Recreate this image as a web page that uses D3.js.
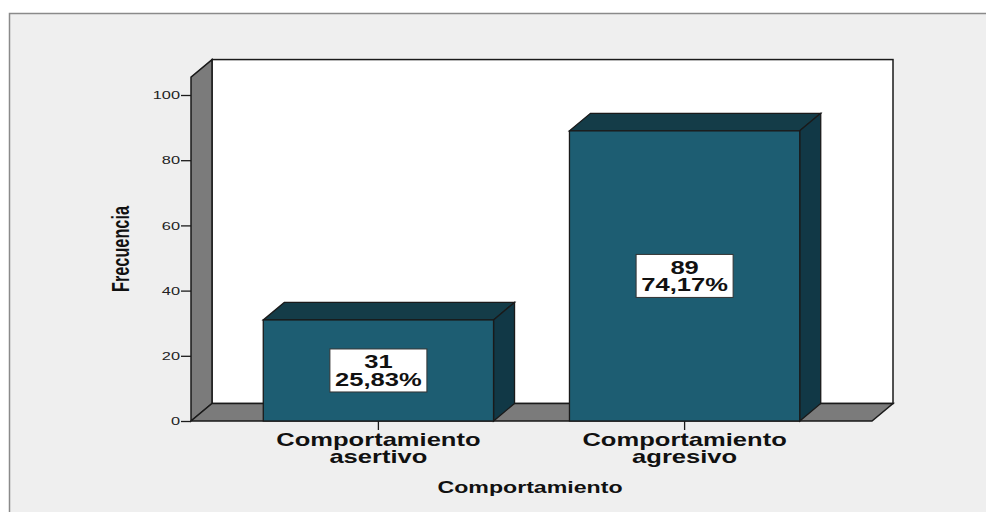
<!DOCTYPE html>
<html>
<head>
<meta charset="utf-8">
<script src="https://cdn.jsdelivr.net/npm/d3@7"></script>
<style>
  html, body { margin: 0; padding: 0; background: #fff; }
  text { font-family: "Liberation Sans", Arial, sans-serif; }
</style>
</head>
<body>
<div id="chart"></div>
<script>
const categories = ['Comportamiento\nasertivo', 'Comportamiento\nagresivo'];
const counts = [31, 89];
const percents = ['25,83%', '74,17%'];
const yTicks = [0, 20, 40, 60, 80, 100];

const W = 986, H = 512;
const sx = 1.42; // horizontal stretch of the original export
const depth = { dx: 21, dy: -17.5 };
const wallTop = 105.5;

const svg = d3.select('#chart').append('svg').attr('width', W).attr('height', H);

// outer frame
svg.append('rect').attr('x', 9.5).attr('y', 13.5).attr('width', W + 10).attr('height', H + 10)
  .attr('fill', '#efefef').attr('stroke', '#8a8a8a').attr('stroke-width', 1.5);

const x = d3.scaleBand().domain(categories).range([191, 872]).paddingInner(0.248).paddingOuter(0.236);
const y = d3.scaleLinear().domain([0, 100]).range([421, 95]);
const x0 = 191, x1 = 872, y0 = y(0), yT = y(wallTop);
const pts = a => a.map(p => p.join(',')).join(' ');
const edge = '#1a1a1a';

// back wall
svg.append('rect').attr('x', x0 + depth.dx).attr('y', yT + depth.dy)
  .attr('width', x1 - x0).attr('height', y0 - yT)
  .attr('fill', '#fff').attr('stroke', edge).attr('stroke-width', 1.5);
// left wall
svg.append('polygon').attr('points', pts([[x0, y0], [x0, yT], [x0 + depth.dx, yT + depth.dy], [x0 + depth.dx, y0 + depth.dy]]))
  .attr('fill', '#7b7b7b').attr('stroke', edge).attr('stroke-width', 1.5);
// floor
svg.append('polygon').attr('points', pts([[x0, y0], [x1, y0], [x1 + depth.dx, y0 + depth.dy], [x0 + depth.dx, y0 + depth.dy]]))
  .attr('fill', '#7b7b7b').attr('stroke', edge).attr('stroke-width', 1.5);

// y axis
const yAxis = svg.append('g').attr('transform', `translate(${x0},0)`)
  .call(d3.axisLeft(y).tickValues(yTicks).tickSize(10).tickPadding(1));
yAxis.select('.domain').remove();
yAxis.selectAll('line').attr('stroke', edge).attr('stroke-width', 1.3);
yAxis.selectAll('text').attr('font-size', 11.5).attr('fill', '#222')
  .attr('x', -11 / sx).attr('transform', `scale(${sx},1)`)
  .style('font-family', '"Liberation Sans", Arial, sans-serif');

// bars
const bars = svg.selectAll('.bar').data(counts).enter().append('g').attr('class', 'bar');
bars.append('polygon').attr('points', (d, i) => {
  const l = x(categories[i]), r = l + x.bandwidth(), t = y(d);
  return pts([[l, t], [r, t], [r + depth.dx, t + depth.dy], [l + depth.dx, t + depth.dy]]);
}).attr('fill', '#143c48').attr('stroke', edge).attr('stroke-width', 1.3);
bars.append('polygon').attr('points', (d, i) => {
  const r = x(categories[i]) + x.bandwidth(), t = y(d);
  return pts([[r, t], [r + depth.dx, t + depth.dy], [r + depth.dx, y0 + depth.dy], [r, y0]]);
}).attr('fill', '#113846').attr('stroke', edge).attr('stroke-width', 1.3);
bars.append('rect')
  .attr('x', (d, i) => x(categories[i])).attr('y', d => y(d))
  .attr('width', x.bandwidth()).attr('height', d => y0 - y(d))
  .attr('fill', '#1d5d72').attr('stroke', edge).attr('stroke-width', 1.3);

// value labels
bars.each(function(d, i) {
  const cx = x(categories[i]) + x.bandwidth() / 2, cy = (y(d) + y0) / 2;
  const g = d3.select(this);
  g.append('rect').attr('x', cx - 48.5).attr('y', cy - 21.5).attr('width', 97).attr('height', 43)
    .attr('fill', '#fff').attr('stroke', '#333').attr('stroke-width', 1);
  const t = g.append('text').attr('transform', `translate(${cx},${cy}) scale(${sx},1)`)
    .attr('text-anchor', 'middle').attr('font-size', 18).attr('font-weight', 'bold').attr('fill', '#111');
  t.append('tspan').attr('x', 0).attr('y', -2).text(d);
  t.append('tspan').attr('x', 0).attr('y', 15.5).text(percents[i]);
});

// x ticks and category labels
categories.forEach(c => {
  const cx = x(c) + x.bandwidth() / 2;
  svg.append('line').attr('x1', cx).attr('x2', cx).attr('y1', y0).attr('y2', y0 + 9)
    .attr('stroke', edge).attr('stroke-width', 1.3);
  const t = svg.append('text').attr('transform', `translate(${cx},446) scale(${sx},1)`)
    .attr('text-anchor', 'middle').attr('font-size', 18).attr('font-weight', 'bold').attr('fill', '#111');
  c.split('\n').forEach((line, j) => t.append('tspan').attr('x', 0).attr('y', j * 17).text(line));
});

// axis titles
svg.append('text').attr('transform', `translate(530,493) scale(${sx},1)`)
  .attr('text-anchor', 'middle').attr('font-size', 16.3).attr('font-weight', 'bold').attr('fill', '#111')
  .text('Comportamiento');
svg.append('text').attr('transform', `translate(129,249) scale(${sx},1) rotate(-90)`)
  .attr('text-anchor', 'middle').attr('font-size', 16.3).attr('font-weight', 'bold').attr('fill', '#111')
  .text('Frecuencia');
</script>
</body>
</html>
